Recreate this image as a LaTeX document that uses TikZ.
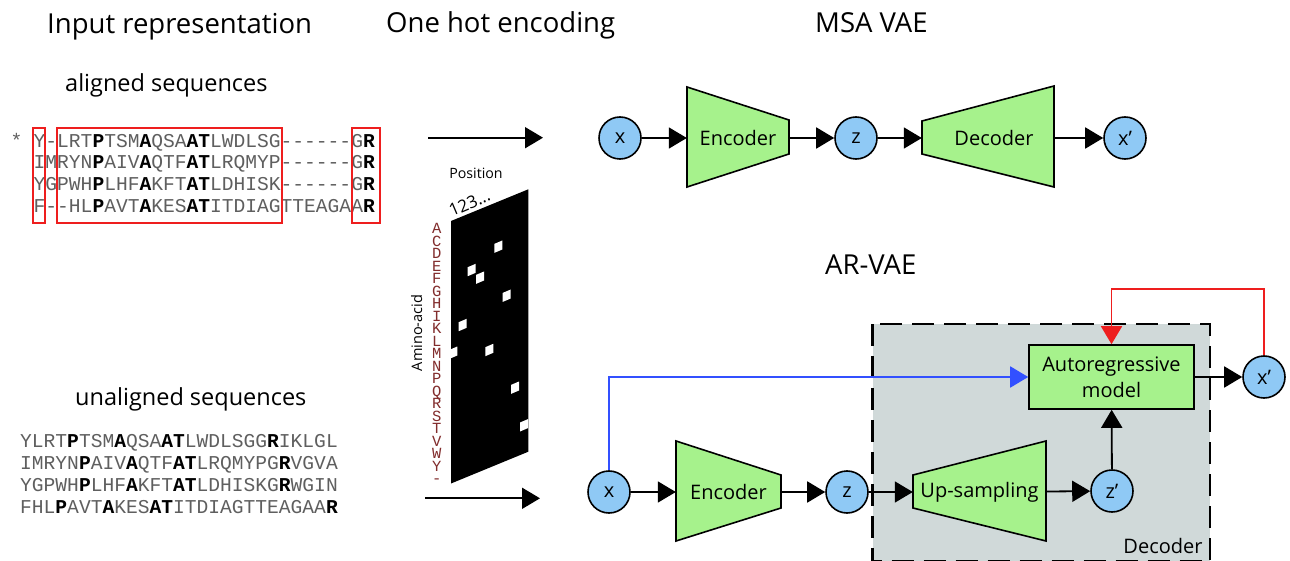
\documentclass[tikz,border=0pt]{standalone}
\usepackage{fontspec}
\setmainfont{Open Sans}
\setmonofont{Liberation Mono}
\usetikzlibrary{arrows.meta}
\definecolor{cblue}{RGB}{143,201,245}
\definecolor{cgreen}{RGB}{166,242,140}
\definecolor{cgray}{RGB}{208,217,217}
\definecolor{cred}{RGB}{238,30,30}
\definecolor{lblue}{RGB}{50,80,255}
\definecolor{seqgray}{RGB}{95,95,95}
\definecolor{aacol}{RGB}{130,45,45}
\newcommand{\B}[1]{{\bfseries\color{black}#1}}
\newcommand{\wsq}[2]{\fill[white] (#1-4,#2-4.5+1.7) -- (#1+4,#2-4.5-1.7) -- (#1+4,#2+4.5-1.7) -- (#1-4,#2+4.5+1.7) -- cycle;}
\begin{document}
\begin{tikzpicture}[x=1pt,y=-1pt,
  circ/.style={circle,draw=black,line width=1.6pt,fill=cblue,minimum size=42pt,inner sep=0pt,font=\fontsize{20}{22}\selectfont},
  trap/.style={draw=black,line width=1.6pt,fill=cgreen,line join=miter},
  lbl/.style={inner sep=0pt,font=\fontsize{20}{22}\selectfont},
  conn/.style={line width=1.8pt,-{Triangle[length=18pt,width=21pt]}},
  seq/.style={anchor=base west,inner sep=0pt,font=\ttfamily\fontsize{19.6}{22}\selectfont,text=seqgray},
  aa/.style={inner sep=0pt,text height=9pt,text depth=0pt,font=\ttfamily\fontsize{15.5}{16}\selectfont,text=aacol},
  title/.style={anchor=base west,inner sep=0pt,font=\fontsize{27.5}{29}\selectfont},
  sub/.style={anchor=base west,inner sep=0pt,font=\fontsize{23.5}{25}\selectfont},
  redbox/.style={draw=cred,line width=2pt},
  dashbox/.style={draw=black,line width=2.5pt,dash pattern=on 22pt off 10pt},
  ]
\useasboundingbox (0,0) rectangle (1290,561);
\clip (0,0) rectangle (1290,561);
\fill[white] (0,0) rectangle (1290,561);

% titles
\node[title] (t1) at (47,33.3) {Input representation};
\node[title] (t2) at (386,32.3) {One hot encoding};
\node[title] (t3) at (815,32.3) {MSA VAE};
\node[title] (t4) at (825,275) {AR-VAE};
\node[sub] (s1) at (65,91.7) {aligned sequences};
\node[sub] (s2) at (75,405) {unaligned sequences};

% aligned sequences
\node[seq] (ast) at (10.5,147.1) {*};
\node[seq] (r1) at (33.5,147.1) {Y-LRT\B{P}TSM\B{A}QSA\B{AT}LWDLSG------G\B{R}};
\node[seq] (r2) at (33.5,168.8) {IMRYN\B{P}AIV\B{A}QTF\B{AT}LRQMYP------G\B{R}};
\node[seq] (r3) at (33.5,190.5) {YGPWH\B{P}LHF\B{A}KFT\B{AT}LDHISK------G\B{R}};
\node[seq] (r4) at (33.5,212.2) {F--HL\B{P}AVT\B{A}KES\B{AT}ITDIAGTTEAGAA\B{R}};
\draw[redbox] (33.3,128.3) rectangle (45,223.3);
\draw[redbox] (56.7,128.3) rectangle (281.7,223.3);
\draw[redbox] (351.7,128.3) rectangle (380,223.3);

% unaligned sequences
\node[seq] (u1) at (20,447.1) {YLRT\B{P}TSM\B{A}QSA\B{AT}LWDLSGG\B{R}IKLGL};
\node[seq] (u2) at (20,469.3) {IMRYN\B{P}AIV\B{A}QTF\B{AT}LRQMYPG\B{R}VGVA};
\node[seq] (u3) at (20,491.5) {YGPWH\B{P}LHF\B{A}KFT\B{AT}LDHISKG\B{R}WGIN};
\node[seq] (u4) at (20,513.7) {FHL\B{P}AVT\B{A}KES\B{AT}ITDIAGTTEAGAA\B{R}};

% input arrows
\coordinate (a1s) at (428,137.7);
\coordinate (a1e) at (543,137.7);
\coordinate (a2s) at (425,498.3);
\coordinate (a2e) at (540,498.3);
\draw[conn] (a1s) -- (a1e);
\draw[conn] (a2s) -- (a2e);

% one hot matrix
\fill[black] (451,221) -- (528.3,189.3) -- (528.3,451.7) -- (451,483.5) -- cycle;
\wsq{498.3}{246.7}
\wsq{471.7}{270}
\wsq{480}{277.7}
\wsq{506.7}{295.7}
\wsq{462.7}{325}
\wsq{453.3}{352.7}
\wsq{489.3}{350}
\wsq{515}{387.7}
\wsq{524}{425.3}
\node[inner sep=0pt,font=\fontsize{14.2}{16}\selectfont] (pos) at (476,173) {Position};
\node[inner sep=0pt,anchor=base west,rotate=23,font=\fontsize{17}{18}\selectfont] (num) at (452,217) {123...};
\foreach \l [count=\i from 0] in {A,C,D,E,F,G,H,I,K,L,M,N,P,Q,R,S,T,V,W,Y,-}
  \node[aa] (aa\i) at (436.7,229.3+12.5*\i) {\l};
\node[inner sep=0pt,rotate=90,font=\fontsize{14.5}{16}\selectfont] (amino) at (416.7,333) {Amino-acid};

% MSA VAE
\node[circ] (x1) at (620,138) {x};
\draw[trap] (687,87) -- (789,120) -- (789,154) -- (687,187) -- cycle;
\node[lbl,minimum width=102pt,minimum height=34pt] (enc1) at (738,138) {Encoder};
\node[circ] (z1) at (856,138) {z};
\draw[trap] (922,121) -- (1054,86) -- (1054,187) -- (922,154) -- cycle;
\node[lbl,minimum width=132pt,minimum height=33pt] (dec1) at (988,138) {\hspace*{12pt}Decoder};
\node[circ] (xp1) at (1125,138) {x’};
\draw[conn] (x1) -- (enc1);
\draw[conn] (enc1) -- (z1);
\draw[conn] (z1) -- (dec1);
\draw[conn] (dec1) -- (xp1);

% AR-VAE
\fill[cgray] (872.5,324) rectangle (1210,561);
\node[inner sep=0pt,anchor=base,font=\fontsize{20}{22}\selectfont] (declbl) at (1163,553) {Decoder};
\draw[dashbox] (872.5,324) rectangle (1210,561);

\node[circ] (x2) at (609,492) {x};
\draw[trap] (676,441) -- (781,475) -- (781,508) -- (676,541) -- cycle;
\node[lbl,minimum width=105pt,minimum height=33pt] (enc2) at (728.5,492) {Encoder};
\node[circ] (z2) at (847,492) {z};
\draw[trap] (913,475) -- (1046,441) -- (1046,541) -- (913,508) -- cycle;
\node[lbl,minimum width=133pt,minimum height=33pt] (up) at (979.5,492) {Up-sampling};
\node[circ] (zp) at (1112,491) {z’};
\node[draw=black,fill=cgreen,line width=1.6pt,minimum width=165pt,minimum height=64pt,inner sep=0pt,align=center,font=\fontsize{20}{26}\selectfont] (ar) at (1111.5,377) {Autoregressive\\model};
\node[circ] (xp2) at (1264,377) {x’};
\coordinate (rtop) at (1264,289);

\draw[conn] (x2) -- (enc2);
\draw[conn] (enc2) -- (z2);
\draw[conn] (z2) -- (up);
\draw[conn] (up) -- (zp);
\draw[conn] (zp) -- (ar);
\draw[conn] (ar) -- (xp2);
\draw[conn,draw=lblue] (x2.north) |- (ar.west);
\draw[conn,draw=cred] (xp2.north) -- (rtop) -| (ar.north);
\end{tikzpicture}
\end{document}
